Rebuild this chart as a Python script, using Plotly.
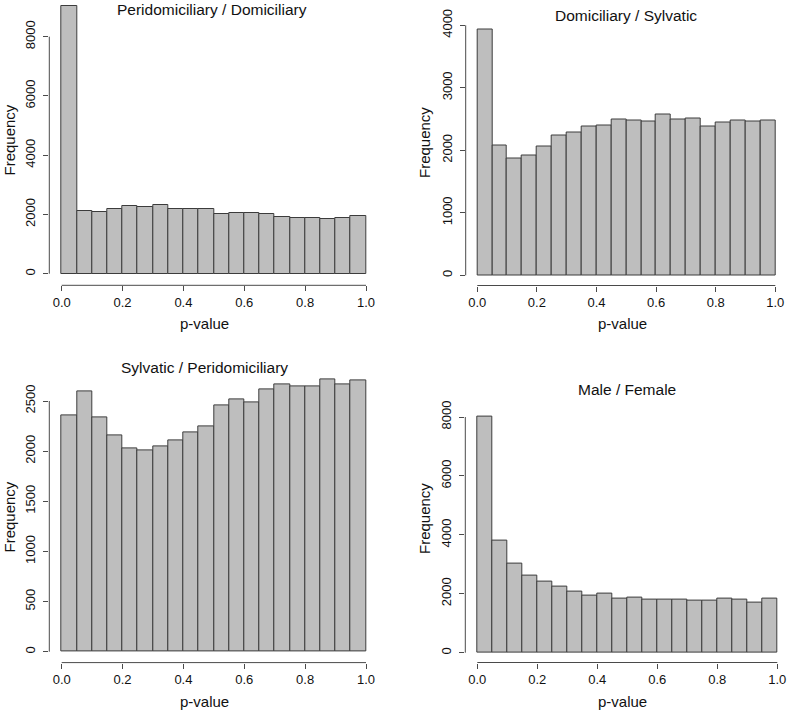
import plotly.graph_objects as go

W, H = 788, 712

# ---------------- data ----------------
bin_edges = [round(i * 0.05, 2) for i in range(21)]

titles = ["Peridomiciliary / Domiciliary", "Domiciliary / Sylvatic",
          "Sylvatic / Peridomiciliary", "Male / Female"]

counts_peri_dom = [9045, 2100, 2080, 2170, 2300, 2260, 2330, 2200, 2170, 2170,
                   2030, 2060, 2035, 2005, 1925, 1880, 1895, 1835, 1895, 1935]
counts_dom_syl = [3936, 2080, 1872, 1915, 2064, 2240, 2283, 2379, 2395, 2496,
                  2480, 2459, 2576, 2496, 2507, 2379, 2443, 2475, 2464, 2475]
counts_syl_peri = [2360, 2593, 2337, 2161, 2028, 2008, 2048, 2108, 2191, 2247,
                   2457, 2517, 2487, 2616, 2663, 2643, 2650, 2716, 2666, 2706]
counts_male_female = [8000, 3790, 3010, 2625, 2410, 2252, 2075, 1950, 1995, 1835,
                      1880, 1805, 1805, 1810, 1780, 1780, 1845, 1810, 1715, 1845]

x_ticks = [0.0, 0.2, 0.4, 0.6, 0.8, 1.0]
x_tick_labels = ["0.0", "0.2", "0.4", "0.6", "0.8", "1.0"]
y_ticks_peri_dom = [0, 2000, 4000, 6000, 8000]
y_ticks_dom_syl = [0, 1000, 2000, 3000, 4000]
y_ticks_syl_peri = [0, 500, 1000, 1500, 2000, 2500]
y_ticks_male_female = [0, 2000, 4000, 6000, 8000]

x_label = "p-value"
y_label = "Frequency"

all_counts = [counts_peri_dom, counts_dom_syl, counts_syl_peri, counts_male_female]
all_yticks = [y_ticks_peri_dom, y_ticks_dom_syl, y_ticks_syl_peri, y_ticks_male_female]

# ---------------- layout geometry (pixels) ----------------
geom = [
    dict(x0px=61.7, x1px=366.0, left=49.3, right=378.2,
         y0px=273.7, yTpx=36.7, bottom=285.3, top=0.0,
         title=(212, 10), ylab=(8.5, 140), xlab=(205, 323)),
    dict(x0px=477.3, x1px=775.3, left=465.7, right=787.2,
         y0px=275.3, yTpx=25.3, bottom=285.5, top=19.5,
         title=(626, 15), ylab=(424, 142), xlab=(622, 323)),
    dict(x0px=61.7, x1px=366.0, left=49.3, right=378.2,
         y0px=651.7, yTpx=401.0, bottom=662.6, top=368.4,
         title=(205, 367), ylab=(8.5, 517), xlab=(205, 701.5)),
    dict(x0px=477.3, x1px=777.3, left=465.3, right=788.0,
         y0px=652.7, yTpx=417.0, bottom=662.5, top=407.6,
         title=(627, 390), ylab=(424, 518), xlab=(622, 701.5)),
]

FONT = "Liberation Sans, Arial, Helvetica, sans-serif"
BAR_FILL = "#bebebe"
BAR_EDGE = "#3c3c3c"
AXIS_COL = "#4a4a4a"
TEXT_COL = "#111111"

fig = go.Figure()
layout = dict(template="none", width=W, height=H, autosize=False,
              margin=dict(l=0, r=0, t=0, b=0, pad=0),
              paper_bgcolor="white", plot_bgcolor="white",
              showlegend=False, bargap=0, font=dict(family=FONT, color=TEXT_COL))
shapes = []
annotations = []

mids = [(bin_edges[i] + bin_edges[i + 1]) / 2 for i in range(len(bin_edges) - 1)]
widths = [bin_edges[i + 1] - bin_edges[i] for i in range(len(bin_edges) - 1)]

for i, (counts, yt, g, ttl) in enumerate(zip(all_counts, all_yticks, geom, titles)):
    n = "" if i == 0 else str(i + 1)
    xa, ya = "x" + n, "y" + n

    fig.add_trace(go.Bar(x=mids, y=counts, width=widths, xaxis=xa, yaxis=ya,
                         marker=dict(color=BAR_FILL, line=dict(color=BAR_EDGE, width=1)),
                         hoverinfo="x+y"))

    sx = (g["x1px"] - g["x0px"]) / (x_ticks[-1] - x_ticks[0])
    xlo = x_ticks[0] + (g["left"] - g["x0px"]) / sx
    xhi = x_ticks[0] + (g["right"] - g["x0px"]) / sx
    T = yt[-1]
    sy = (g["y0px"] - g["yTpx"]) / T
    ylo = (g["y0px"] - g["bottom"]) / sy
    yhi = (g["y0px"] - g["top"]) / sy

    layout["xaxis" + n] = dict(
        domain=[g["left"] / W, g["right"] / W], range=[xlo, xhi], anchor=ya,
        automargin=False,
        showgrid=False, zeroline=False, showline=False,
        ticks="outside", ticklen=5, tickwidth=1, tickcolor=AXIS_COL,
        tickvals=x_ticks, ticktext=x_tick_labels,
        tickfont=dict(size=13, family=FONT, color=TEXT_COL), ticklabelstandoff=0,
        fixedrange=True)
    layout["yaxis" + n] = dict(
        domain=[(H - g["bottom"]) / H, (H - g["top"]) / H], range=[ylo, yhi], anchor=xa,
        automargin=False,
        showgrid=False, zeroline=False, showline=False,
        ticks="outside", ticklen=5, tickwidth=1, tickcolor=AXIS_COL,
        tickvals=yt, ticktext=[str(v) for v in yt], tickangle=-90,
        tickfont=dict(size=13, family=FONT, color=TEXT_COL), ticklabelstandoff=3,
        fixedrange=True)

    shapes.append(dict(type="line", xref=xa, yref=ya + " domain",
                       x0=x_ticks[0], x1=x_ticks[-1], y0=0, y1=0,
                       line=dict(color=AXIS_COL, width=1)))
    shapes.append(dict(type="line", xref=xa + " domain", yref=ya,
                       x0=0, x1=0, y0=yt[0], y1=yt[-1],
                       line=dict(color=AXIS_COL, width=1)))

    annotations.append(dict(text=ttl, x=g["title"][0] / W, y=1 - g["title"][1] / H,
                            xref="paper", yref="paper", showarrow=False,
                            xanchor="center", yanchor="middle",
                            font=dict(size=15.5, family=FONT, color=TEXT_COL)))
    annotations.append(dict(text=x_label, x=g["xlab"][0] / W, y=1 - g["xlab"][1] / H,
                            xref="paper", yref="paper", showarrow=False,
                            xanchor="center", yanchor="middle",
                            font=dict(size=15, family=FONT, color=TEXT_COL)))
    annotations.append(dict(text=y_label, x=g["ylab"][0] / W, y=1 - g["ylab"][1] / H,
                            xref="paper", yref="paper", showarrow=False, textangle=-90,
                            xanchor="center", yanchor="middle",
                            font=dict(size=15, family=FONT, color=TEXT_COL)))

layout["shapes"] = shapes
layout["annotations"] = annotations
fig.update_layout(**layout)
fig.write_html("out.html", config={"displayModeBar": False, "responsive": False},
               post_script="document.body.style.margin='0';document.body.style.overflow='hidden';")
